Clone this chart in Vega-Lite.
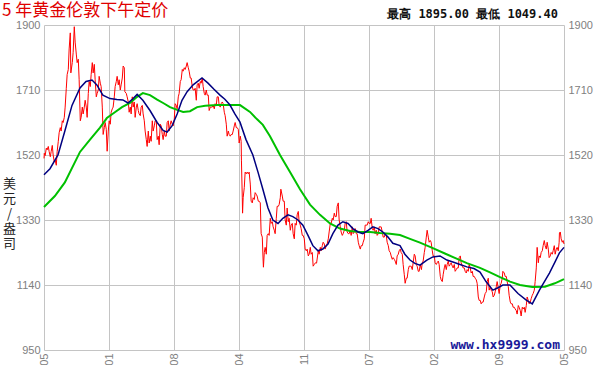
{
"$schema": "https://vega.github.io/schema/vega-lite/v6.json",
"width": 520, "height": 325,
"autosize": {"type": "none"},
"padding": {"left": 44, "top": 25, "right": 36, "bottom": 15},
"background": "white",
"title": {"text": "5 年黄金伦敦下午定价", "anchor": "start", "frame": "group", "color": "#e00000", "font": "Noto Sans CJK SC", "fontSize": 17, "fontWeight": "normal", "dx": -42, "dy": 16, "offset": 4},
"config": {"view": {"stroke": null}},
"datasets": {
"gold": [
{"d":"2011-05-22","p":1510},{"d":"2011-05-23","p":1525},{"d":"2011-05-26","p":1518},{"d":"2011-05-30","p":1540},{"d":"2011-06-02","p":1535},{"d":"2011-06-06","p":1545},{"d":"2011-06-09","p":1530},{"d":"2011-06-13","p":1515},{"d":"2011-06-16","p":1530},{"d":"2011-06-20","p":1548},{"d":"2011-06-23","p":1520},{"d":"2011-06-27","p":1500},{"d":"2011-06-30","p":1505},{"d":"2011-07-04","p":1490},{"d":"2011-07-07","p":1530},{"d":"2011-07-11","p":1560},{"d":"2011-07-14","p":1585},{"d":"2011-07-18","p":1600},{"d":"2011-07-21","p":1590},{"d":"2011-07-25","p":1620},{"d":"2011-07-28","p":1615},{"d":"2011-08-01","p":1630},{"d":"2011-08-04","p":1660},{"d":"2011-08-08","p":1715},{"d":"2011-08-11","p":1755},{"d":"2011-08-15","p":1770},{"d":"2011-08-18","p":1830},{"d":"2011-08-22","p":1877},{"d":"2011-08-24","p":1760},{"d":"2011-08-29","p":1790},{"d":"2011-09-01","p":1820},{"d":"2011-09-05","p":1895},{"d":"2011-09-08","p":1850},{"d":"2011-09-12","p":1815},{"d":"2011-09-15","p":1790},{"d":"2011-09-19","p":1800},{"d":"2011-09-22","p":1740},{"d":"2011-09-26","p":1620},{"d":"2011-09-29","p":1630},{"d":"2011-10-03","p":1660},{"d":"2011-10-06","p":1640},{"d":"2011-10-10","p":1660},{"d":"2011-10-13","p":1680},{"d":"2011-10-17","p":1660},{"d":"2011-10-20","p":1630},{"d":"2011-10-24","p":1700},{"d":"2011-10-27","p":1735},{"d":"2011-10-31","p":1720},{"d":"2011-11-03","p":1755},{"d":"2011-11-07","p":1790},{"d":"2011-11-10","p":1760},{"d":"2011-11-14","p":1785},{"d":"2011-11-17","p":1740},{"d":"2011-11-21","p":1690},{"d":"2011-11-24","p":1700},{"d":"2011-11-28","p":1710},{"d":"2011-12-01","p":1750},{"d":"2011-12-05","p":1730},{"d":"2011-12-08","p":1720},{"d":"2011-12-12","p":1660},{"d":"2011-12-15","p":1580},{"d":"2011-12-19","p":1600},{"d":"2011-12-22","p":1615},{"d":"2011-12-26","p":1595},{"d":"2011-12-29","p":1531},
{"d":"2012-01-02","p":1590},{"d":"2012-01-05","p":1620},{"d":"2012-01-09","p":1610},{"d":"2012-01-12","p":1645},{"d":"2012-01-16","p":1655},{"d":"2012-01-19","p":1660},{"d":"2012-01-23","p":1690},{"d":"2012-01-26","p":1720},{"d":"2012-01-30","p":1735},{"d":"2012-02-02","p":1750},{"d":"2012-02-06","p":1725},{"d":"2012-02-09","p":1740},{"d":"2012-02-13","p":1710},{"d":"2012-02-16","p":1725},{"d":"2012-02-20","p":1745},{"d":"2012-02-23","p":1780},{"d":"2012-02-27","p":1775},{"d":"2012-02-29","p":1705},{"d":"2012-03-05","p":1700},{"d":"2012-03-08","p":1690},{"d":"2012-03-12","p":1675},{"d":"2012-03-15","p":1645},{"d":"2012-03-19","p":1660},{"d":"2012-03-22","p":1640},{"d":"2012-03-26","p":1690},{"d":"2012-03-29","p":1660},{"d":"2012-04-02","p":1675},{"d":"2012-04-05","p":1630},{"d":"2012-04-09","p":1660},{"d":"2012-04-12","p":1670},{"d":"2012-04-16","p":1650},{"d":"2012-04-19","p":1640},{"d":"2012-04-23","p":1635},{"d":"2012-04-26","p":1660},{"d":"2012-04-30","p":1665},{"d":"2012-05-03","p":1640},{"d":"2012-05-07","p":1620},{"d":"2012-05-10","p":1590},{"d":"2012-05-14","p":1565},{"d":"2012-05-17","p":1545},{"d":"2012-05-21","p":1590},{"d":"2012-05-24","p":1555},{"d":"2012-05-28","p":1575},{"d":"2012-05-31","p":1560},{"d":"2012-06-04","p":1620},{"d":"2012-06-07","p":1590},{"d":"2012-06-11","p":1605},{"d":"2012-06-14","p":1620},{"d":"2012-06-18","p":1620},{"d":"2012-06-21","p":1565},{"d":"2012-06-25","p":1575},{"d":"2012-06-28","p":1550},{"d":"2012-07-02","p":1610},{"d":"2012-07-05","p":1605},{"d":"2012-07-09","p":1580},{"d":"2012-07-12","p":1565},{"d":"2012-07-16","p":1590},{"d":"2012-07-19","p":1575},{"d":"2012-07-23","p":1575},{"d":"2012-07-26","p":1615},{"d":"2012-07-30","p":1620},{"d":"2012-08-02","p":1590},{"d":"2012-08-06","p":1610},{"d":"2012-08-09","p":1620},{"d":"2012-08-13","p":1610},{"d":"2012-08-16","p":1605},{"d":"2012-08-20","p":1625},{"d":"2012-08-23","p":1670},{"d":"2012-08-27","p":1665},{"d":"2012-08-30","p":1655},{"d":"2012-09-03","p":1690},{"d":"2012-09-06","p":1700},{"d":"2012-09-10","p":1735},{"d":"2012-09-13","p":1740},{"d":"2012-09-17","p":1770},{"d":"2012-09-20","p":1765},{"d":"2012-09-24","p":1775},{"d":"2012-09-27","p":1770},{"d":"2012-10-01","p":1780},{"d":"2012-10-04","p":1790},{"d":"2012-10-08","p":1775},{"d":"2012-10-11","p":1765},{"d":"2012-10-15","p":1745},{"d":"2012-10-18","p":1745},{"d":"2012-10-22","p":1720},{"d":"2012-10-25","p":1710},{"d":"2012-10-29","p":1710},{"d":"2012-11-01","p":1715},{"d":"2012-11-05","p":1680},{"d":"2012-11-08","p":1725},{"d":"2012-11-12","p":1730},{"d":"2012-11-15","p":1715},{"d":"2012-11-19","p":1735},{"d":"2012-11-22","p":1730},{"d":"2012-11-26","p":1745},{"d":"2012-11-29","p":1720},{"d":"2012-12-03","p":1700},{"d":"2012-12-06","p":1695},{"d":"2012-12-10","p":1710},{"d":"2012-12-13","p":1695},{"d":"2012-12-17","p":1695},{"d":"2012-12-20","p":1650},{"d":"2012-12-24","p":1660},{"d":"2012-12-27","p":1660},{"d":"2012-12-31","p":1660},
{"d":"2013-01-03","p":1665},{"d":"2013-01-07","p":1655},{"d":"2013-01-10","p":1670},{"d":"2013-01-14","p":1665},{"d":"2013-01-17","p":1690},{"d":"2013-01-21","p":1690},{"d":"2013-01-24","p":1665},{"d":"2013-01-28","p":1660},{"d":"2013-01-31","p":1670},{"d":"2013-02-04","p":1675},{"d":"2013-02-07","p":1670},{"d":"2013-02-11","p":1645},{"d":"2013-02-14","p":1635},{"d":"2013-02-18","p":1610},{"d":"2013-02-21","p":1575},{"d":"2013-02-25","p":1590},{"d":"2013-02-28","p":1580},{"d":"2013-03-04","p":1575},{"d":"2013-03-07","p":1580},{"d":"2013-03-11","p":1580},{"d":"2013-03-14","p":1590},{"d":"2013-03-18","p":1605},{"d":"2013-03-21","p":1615},{"d":"2013-03-25","p":1600},{"d":"2013-03-28","p":1600},{"d":"2013-04-01","p":1595},{"d":"2013-04-04","p":1555},{"d":"2013-04-08","p":1575},{"d":"2013-04-11","p":1560},{"d":"2013-04-12","p":1505},{"d":"2013-04-15","p":1395},{"d":"2013-04-16","p":1350},{"d":"2013-04-18","p":1395},{"d":"2013-04-22","p":1425},{"d":"2013-04-25","p":1470},{"d":"2013-04-29","p":1465},{"d":"2013-05-02","p":1470},{"d":"2013-05-06","p":1465},{"d":"2013-05-09","p":1470},{"d":"2013-05-13","p":1435},{"d":"2013-05-16","p":1385},{"d":"2013-05-20","p":1380},{"d":"2013-05-23","p":1395},{"d":"2013-05-27","p":1390},{"d":"2013-05-30","p":1410},{"d":"2013-06-03","p":1405},{"d":"2013-06-06","p":1400},{"d":"2013-06-10","p":1385},{"d":"2013-06-13","p":1385},{"d":"2013-06-17","p":1380},{"d":"2013-06-20","p":1290},{"d":"2013-06-24","p":1280},{"d":"2013-06-27","p":1210},{"d":"2013-06-28","p":1192},{"d":"2013-07-01","p":1235},{"d":"2013-07-04","p":1250},{"d":"2013-07-08","p":1230},{"d":"2013-07-11","p":1285},{"d":"2013-07-15","p":1290},{"d":"2013-07-18","p":1285},{"d":"2013-07-22","p":1335},{"d":"2013-07-25","p":1320},{"d":"2013-07-29","p":1325},{"d":"2013-08-01","p":1310},{"d":"2013-08-05","p":1300},{"d":"2013-08-08","p":1290},{"d":"2013-08-12","p":1335},{"d":"2013-08-15","p":1370},{"d":"2013-08-19","p":1370},{"d":"2013-08-22","p":1375},{"d":"2013-08-26","p":1395},{"d":"2013-08-28","p":1420},{"d":"2013-09-02","p":1400},{"d":"2013-09-05","p":1385},{"d":"2013-09-09","p":1385},{"d":"2013-09-12","p":1330},{"d":"2013-09-16","p":1315},{"d":"2013-09-19","p":1365},{"d":"2013-09-23","p":1325},{"d":"2013-09-26","p":1335},{"d":"2013-09-30","p":1300},{"d":"2013-10-03","p":1315},{"d":"2013-10-07","p":1320},{"d":"2013-10-10","p":1290},{"d":"2013-10-14","p":1275},{"d":"2013-10-17","p":1320},{"d":"2013-10-21","p":1315},{"d":"2013-10-24","p":1345},{"d":"2013-10-28","p":1355},{"d":"2013-10-31","p":1325},{"d":"2013-11-04","p":1315},{"d":"2013-11-07","p":1305},{"d":"2013-11-11","p":1285},{"d":"2013-11-14","p":1285},{"d":"2013-11-18","p":1275},{"d":"2013-11-21","p":1245},{"d":"2013-11-25","p":1240},{"d":"2013-11-28","p":1245},{"d":"2013-12-02","p":1225},{"d":"2013-12-05","p":1230},{"d":"2013-12-09","p":1250},{"d":"2013-12-12","p":1230},{"d":"2013-12-16","p":1235},{"d":"2013-12-19","p":1195},{"d":"2013-12-23","p":1200},{"d":"2013-12-27","p":1205},{"d":"2013-12-31","p":1204},
{"d":"2014-01-06","p":1240},{"d":"2014-01-09","p":1230},{"d":"2014-01-13","p":1250},{"d":"2014-01-16","p":1240},{"d":"2014-01-20","p":1255},{"d":"2014-01-23","p":1265},{"d":"2014-01-27","p":1260},{"d":"2014-01-30","p":1245},{"d":"2014-02-03","p":1255},{"d":"2014-02-06","p":1260},{"d":"2014-02-10","p":1275},{"d":"2014-02-13","p":1295},{"d":"2014-02-17","p":1320},{"d":"2014-02-20","p":1320},{"d":"2014-02-24","p":1335},{"d":"2014-02-27","p":1330},{"d":"2014-03-03","p":1350},{"d":"2014-03-06","p":1340},{"d":"2014-03-10","p":1340},{"d":"2014-03-13","p":1370},{"d":"2014-03-17","p":1380},{"d":"2014-03-20","p":1330},{"d":"2014-03-24","p":1310},{"d":"2014-03-27","p":1295},{"d":"2014-03-31","p":1285},{"d":"2014-04-03","p":1290},{"d":"2014-04-07","p":1300},{"d":"2014-04-10","p":1320},{"d":"2014-04-14","p":1325},{"d":"2014-04-17","p":1295},{"d":"2014-04-21","p":1290},{"d":"2014-04-24","p":1290},{"d":"2014-04-28","p":1300},{"d":"2014-05-01","p":1285},{"d":"2014-05-05","p":1310},{"d":"2014-05-08","p":1290},{"d":"2014-05-12","p":1295},{"d":"2014-05-15","p":1305},{"d":"2014-05-19","p":1290},{"d":"2014-05-22","p":1290},{"d":"2014-05-26","p":1265},{"d":"2014-05-29","p":1255},{"d":"2014-06-02","p":1245},{"d":"2014-06-05","p":1255},{"d":"2014-06-09","p":1255},{"d":"2014-06-12","p":1265},{"d":"2014-06-16","p":1275},{"d":"2014-06-19","p":1315},{"d":"2014-06-23","p":1315},{"d":"2014-06-26","p":1315},{"d":"2014-06-30","p":1325},{"d":"2014-07-03","p":1320},{"d":"2014-07-07","p":1320},{"d":"2014-07-10","p":1335},{"d":"2014-07-14","p":1305},{"d":"2014-07-17","p":1300},{"d":"2014-07-21","p":1310},{"d":"2014-07-24","p":1290},{"d":"2014-07-28","p":1300},{"d":"2014-07-31","p":1285},{"d":"2014-08-04","p":1290},{"d":"2014-08-07","p":1310},{"d":"2014-08-11","p":1310},{"d":"2014-08-14","p":1310},{"d":"2014-08-18","p":1295},{"d":"2014-08-21","p":1280},{"d":"2014-08-25","p":1280},{"d":"2014-08-28","p":1290},{"d":"2014-09-01","p":1285},{"d":"2014-09-04","p":1265},{"d":"2014-09-08","p":1255},{"d":"2014-09-11","p":1240},{"d":"2014-09-15","p":1235},{"d":"2014-09-18","p":1225},{"d":"2014-09-22","p":1215},{"d":"2014-09-25","p":1220},{"d":"2014-09-29","p":1215},{"d":"2014-10-02","p":1210},{"d":"2014-10-06","p":1200},{"d":"2014-10-09","p":1225},{"d":"2014-10-13","p":1230},{"d":"2014-10-16","p":1240},{"d":"2014-10-20","p":1245},{"d":"2014-10-23","p":1235},{"d":"2014-10-27","p":1230},{"d":"2014-10-30","p":1200},{"d":"2014-11-03","p":1170},{"d":"2014-11-06","p":1145},{"d":"2014-11-10","p":1160},{"d":"2014-11-13","p":1160},{"d":"2014-11-17","p":1185},{"d":"2014-11-20","p":1195},{"d":"2014-11-24","p":1195},{"d":"2014-11-27","p":1195},{"d":"2014-12-01","p":1185},{"d":"2014-12-04","p":1205},{"d":"2014-12-08","p":1230},{"d":"2014-12-11","p":1225},{"d":"2014-12-15","p":1200},{"d":"2014-12-18","p":1195},{"d":"2014-12-22","p":1180},{"d":"2014-12-25","p":1180},{"d":"2014-12-29","p":1200},
{"d":"2015-01-02","p":1185},{"d":"2015-01-05","p":1205},{"d":"2015-01-08","p":1210},{"d":"2015-01-12","p":1235},{"d":"2015-01-15","p":1250},{"d":"2015-01-19","p":1280},{"d":"2015-01-22","p":1300},{"d":"2015-01-26","p":1280},{"d":"2015-01-29","p":1265},{"d":"2015-02-02","p":1270},{"d":"2015-02-05","p":1265},{"d":"2015-02-09","p":1240},{"d":"2015-02-12","p":1225},{"d":"2015-02-16","p":1225},{"d":"2015-02-19","p":1205},{"d":"2015-02-23","p":1200},{"d":"2015-02-26","p":1205},{"d":"2015-03-02","p":1210},{"d":"2015-03-05","p":1200},{"d":"2015-03-09","p":1165},{"d":"2015-03-12","p":1155},{"d":"2015-03-16","p":1150},{"d":"2015-03-19","p":1170},{"d":"2015-03-23","p":1190},{"d":"2015-03-26","p":1200},{"d":"2015-03-30","p":1185},{"d":"2015-04-02","p":1200},{"d":"2015-04-06","p":1210},{"d":"2015-04-09","p":1195},{"d":"2015-04-13","p":1200},{"d":"2015-04-16","p":1205},{"d":"2015-04-20","p":1195},{"d":"2015-04-23","p":1190},{"d":"2015-04-27","p":1200},{"d":"2015-04-30","p":1180},{"d":"2015-05-04","p":1185},{"d":"2015-05-07","p":1190},{"d":"2015-05-11","p":1190},{"d":"2015-05-14","p":1220},{"d":"2015-05-18","p":1225},{"d":"2015-05-21","p":1205},{"d":"2015-05-25","p":1195},{"d":"2015-05-28","p":1190},{"d":"2015-06-01","p":1190},{"d":"2015-06-04","p":1180},{"d":"2015-06-08","p":1175},{"d":"2015-06-11","p":1185},{"d":"2015-06-15","p":1180},{"d":"2015-06-18","p":1200},{"d":"2015-06-22","p":1190},{"d":"2015-06-25","p":1175},{"d":"2015-06-29","p":1180},{"d":"2015-07-02","p":1165},{"d":"2015-07-06","p":1165},{"d":"2015-07-09","p":1160},{"d":"2015-07-13","p":1155},{"d":"2015-07-16","p":1145},{"d":"2015-07-20","p":1105},{"d":"2015-07-23","p":1095},{"d":"2015-07-27","p":1095},{"d":"2015-07-30","p":1085},{"d":"2015-08-03","p":1090},{"d":"2015-08-06","p":1090},{"d":"2015-08-10","p":1105},{"d":"2015-08-13","p":1115},{"d":"2015-08-17","p":1120},{"d":"2015-08-20","p":1150},{"d":"2015-08-24","p":1160},{"d":"2015-08-27","p":1125},{"d":"2015-08-31","p":1135},{"d":"2015-09-03","p":1125},{"d":"2015-09-07","p":1120},{"d":"2015-09-10","p":1105},{"d":"2015-09-14","p":1110},{"d":"2015-09-17","p":1120},{"d":"2015-09-21","p":1135},{"d":"2015-09-24","p":1150},{"d":"2015-09-28","p":1130},{"d":"2015-10-01","p":1115},{"d":"2015-10-05","p":1140},{"d":"2015-10-08","p":1145},{"d":"2015-10-12","p":1160},{"d":"2015-10-14","p":1180},{"d":"2015-10-19","p":1175},{"d":"2015-10-22","p":1165},{"d":"2015-10-26","p":1165},{"d":"2015-10-29","p":1150},{"d":"2015-11-02","p":1135},{"d":"2015-11-05","p":1110},{"d":"2015-11-09","p":1090},{"d":"2015-11-12","p":1085},{"d":"2015-11-16","p":1085},{"d":"2015-11-19","p":1075},{"d":"2015-11-23","p":1075},{"d":"2015-11-26","p":1070},{"d":"2015-11-30","p":1065},{"d":"2015-12-03","p":1055},{"d":"2015-12-07","p":1080},{"d":"2015-12-10","p":1075},{"d":"2015-12-14","p":1065},{"d":"2015-12-17","p":1049.4},{"d":"2015-12-21","p":1075},{"d":"2015-12-24","p":1070},{"d":"2015-12-28","p":1075},{"d":"2015-12-31","p":1060},
{"d":"2016-01-04","p":1080},{"d":"2016-01-07","p":1105},{"d":"2016-01-11","p":1095},{"d":"2016-01-14","p":1085},{"d":"2016-01-18","p":1090},{"d":"2016-01-21","p":1100},{"d":"2016-01-25","p":1110},{"d":"2016-01-28","p":1115},{"d":"2016-02-01","p":1125},{"d":"2016-02-04","p":1150},{"d":"2016-02-08","p":1190},{"d":"2016-02-11","p":1250},{"d":"2016-02-15","p":1205},{"d":"2016-02-18","p":1225},{"d":"2016-02-22","p":1220},{"d":"2016-02-25","p":1235},{"d":"2016-02-29","p":1240},{"d":"2016-03-03","p":1255},{"d":"2016-03-07","p":1270},{"d":"2016-03-10","p":1255},{"d":"2016-03-14","p":1245},{"d":"2016-03-17","p":1265},{"d":"2016-03-21","p":1245},{"d":"2016-03-24","p":1220},{"d":"2016-03-28","p":1225},{"d":"2016-03-31","p":1235},{"d":"2016-04-04","p":1230},{"d":"2016-04-07","p":1240},{"d":"2016-04-11","p":1255},{"d":"2016-04-14","p":1230},{"d":"2016-04-18","p":1245},{"d":"2016-04-21","p":1250},{"d":"2016-04-25","p":1240},{"d":"2016-04-28","p":1265},{"d":"2016-04-29","p":1292},{"d":"2016-05-02","p":1295},{"d":"2016-05-05","p":1275},{"d":"2016-05-09","p":1265},{"d":"2016-05-12","p":1270},{"d":"2016-05-15","p":1260}
],
"maShort": [
{"d":"2011-05-22","p":1462},{"d":"2011-06-12","p":1480},{"d":"2011-07-10","p":1520},{"d":"2011-08-03","p":1590},{"d":"2011-08-28","p":1665},{"d":"2011-09-25","p":1716},{"d":"2011-10-16","p":1735},{"d":"2011-11-06","p":1739},{"d":"2011-11-23","p":1725},{"d":"2011-12-14","p":1695},{"d":"2012-01-08","p":1685},{"d":"2012-02-01","p":1682},{"d":"2012-02-22","p":1681},{"d":"2012-03-11","p":1672},{"d":"2012-03-29","p":1685},{"d":"2012-04-12","p":1697},{"d":"2012-05-02","p":1680},{"d":"2012-05-27","p":1650},{"d":"2012-06-21","p":1615},{"d":"2012-07-12","p":1592},{"d":"2012-07-26","p":1587},{"d":"2012-08-12","p":1605},{"d":"2012-08-30","p":1640},{"d":"2012-09-16","p":1680},{"d":"2012-10-04","p":1705},{"d":"2012-10-25","p":1725},{"d":"2012-11-25","p":1745},{"d":"2012-12-16","p":1730},{"d":"2013-01-06","p":1712},{"d":"2013-01-27","p":1695},{"d":"2013-02-13","p":1683},{"d":"2013-03-03","p":1666},{"d":"2013-03-20","p":1640},{"d":"2013-04-07","p":1616},{"d":"2013-04-28","p":1565},{"d":"2013-05-22","p":1520},{"d":"2013-06-09","p":1470},{"d":"2013-06-26","p":1420},{"d":"2013-07-14","p":1365},{"d":"2013-07-31","p":1330},{"d":"2013-08-18","p":1320},{"d":"2013-09-04","p":1335},{"d":"2013-09-22","p":1345},{"d":"2013-10-09","p":1340},{"d":"2013-10-27","p":1330},{"d":"2013-11-13","p":1315},{"d":"2013-12-01","p":1285},{"d":"2013-12-18","p":1255},{"d":"2014-01-05","p":1240},{"d":"2014-01-22","p":1245},{"d":"2014-02-09","p":1260},{"d":"2014-02-26","p":1290},{"d":"2014-03-16","p":1315},{"d":"2014-04-02","p":1325},{"d":"2014-04-20","p":1320},{"d":"2014-05-07","p":1305},{"d":"2014-05-25","p":1295},{"d":"2014-06-11","p":1290},{"d":"2014-06-29","p":1300},{"d":"2014-07-16","p":1310},{"d":"2014-08-03","p":1305},{"d":"2014-08-20","p":1295},{"d":"2014-09-07","p":1280},{"d":"2014-09-24","p":1262},{"d":"2014-10-19","p":1255},{"d":"2014-11-05","p":1230},{"d":"2014-11-23","p":1213},{"d":"2014-12-10","p":1203},{"d":"2014-12-28","p":1198},{"d":"2015-01-21","p":1213},{"d":"2015-02-11","p":1222},{"d":"2015-03-08","p":1225},{"d":"2015-04-01","p":1213},{"d":"2015-04-22","p":1207},{"d":"2015-05-17","p":1200},{"d":"2015-06-10","p":1193},{"d":"2015-07-05","p":1188},{"d":"2015-07-26","p":1178},{"d":"2015-08-16","p":1150},{"d":"2015-09-09","p":1125},{"d":"2015-09-27","p":1132},{"d":"2015-10-14","p":1140},{"d":"2015-11-08","p":1140},{"d":"2015-12-06","p":1115},{"d":"2016-01-04","p":1096},{"d":"2016-01-25","p":1085},{"d":"2016-02-19","p":1125},{"d":"2016-03-25","p":1175},{"d":"2016-04-15","p":1210},{"d":"2016-04-29","p":1234},{"d":"2016-05-15","p":1250}
],
"maLong": [
{"d":"2011-05-22","p":1368},{"d":"2011-06-29","p":1400},{"d":"2011-08-03","p":1440},{"d":"2011-09-25","p":1529},{"d":"2011-10-30","p":1565},{"d":"2011-12-04","p":1600},{"d":"2011-12-28","p":1628},{"d":"2012-01-25","p":1645},{"d":"2012-02-19","p":1660},{"d":"2012-03-18","p":1672},{"d":"2012-04-12","p":1690},{"d":"2012-05-02","p":1701},{"d":"2012-05-27","p":1695},{"d":"2012-06-21","p":1682},{"d":"2012-07-12","p":1672},{"d":"2012-08-05","p":1660},{"d":"2012-08-30","p":1652},{"d":"2012-09-20","p":1646},{"d":"2012-10-14","p":1648},{"d":"2012-11-08","p":1660},{"d":"2012-12-06","p":1664},{"d":"2013-01-17","p":1666},{"d":"2013-03-03","p":1666},{"d":"2013-04-07","p":1666},{"d":"2013-05-12","p":1646},{"d":"2013-06-05","p":1625},{"d":"2013-06-26","p":1608},{"d":"2013-07-21","p":1575},{"d":"2013-08-25","p":1520},{"d":"2013-09-29","p":1470},{"d":"2013-11-03","p":1420},{"d":"2013-12-08","p":1375},{"d":"2014-01-12","p":1345},{"d":"2014-02-16","p":1320},{"d":"2014-03-23","p":1305},{"d":"2014-04-27","p":1298},{"d":"2014-06-01","p":1295},{"d":"2014-07-06","p":1295},{"d":"2014-08-10","p":1292},{"d":"2014-09-14","p":1290},{"d":"2014-10-19","p":1286},{"d":"2014-11-23","p":1275},{"d":"2014-12-28","p":1264},{"d":"2015-02-11","p":1248},{"d":"2015-03-25","p":1232},{"d":"2015-05-03","p":1218},{"d":"2015-06-10","p":1204},{"d":"2015-07-26","p":1190},{"d":"2015-08-30","p":1177},{"d":"2015-10-04","p":1163},{"d":"2015-11-08","p":1150},{"d":"2015-12-13","p":1140},{"d":"2016-01-25","p":1134},{"d":"2016-03-09","p":1135},{"d":"2016-04-13","p":1145},{"d":"2016-05-15","p":1157}
]
},
"layer": [
{
"data": {"name": "gold"},
"mark": {"type": "line", "color": "#ff0000", "strokeWidth": 1, "interpolate": "linear"},
"encoding": {
"x": {"field": "d", "type": "temporal",
 "scale": {"type": "utc", "domain": [1306022400000, 1463270400000]},
 "axis": {"orient": "bottom", "title": null, "values": [1306022400000,1325678400000,1345334400000,1364990400000,1384646400000,1404302400000,1423958400000,1443614400000,1463270400000],
  "labelExpr": "['2011-05','2012-01','2012-08','2013-04','2013-11','2014-07','2015-02','2015-09','2016-05'][round((+datum.value - 1306022400000) / 19656000000)]",
  "grid": true, "gridColor": "#c4c4c4", "gridWidth": 1, "domain": false, "ticks": false,
  "labelAngle": -90, "labelAlign": "right", "labelBaseline": "middle", "labelPadding": 3,
  "labelFont": "Liberation Sans", "labelFontSize": 11, "labelColor": "#808080", "labelOverlap": false, "labelBound": false, "labelFlush": false}},
"y": {"field": "p", "type": "quantitative",
 "scale": {"domain": [950, 1900], "nice": false, "zero": false},
 "axis": {"orient": "left", "values": [950,1140,1330,1520,1710,1900], "format": "d", "grid": true, "gridColor": "#c4c4c4", "domain": false, "ticks": false,
  "labelPadding": 4, "labelFont": "Liberation Sans", "labelFontSize": 11, "labelColor": "#808080",
  "title": ["美","元","/","盎","司"], "titleAngle": 0, "titleAlign": "center", "titleBaseline": "top", "titleX": -35, "titleY": 152,
  "titleFont": "Noto Sans CJK SC", "titleFontSize": 13, "titleFontWeight": "normal", "titleColor": "#222222", "titleLineHeight": 15}}
}
},
{
"data": {"name": "maLong"},
"mark": {"type": "line", "color": "#00c000", "strokeWidth": 2},
"encoding": {
"x": {"field": "d", "type": "temporal"},
"y": {"field": "p", "type": "quantitative", "axis": null}
}
},
{
"data": {"name": "maShort"},
"mark": {"type": "line", "color": "#000080", "strokeWidth": 1.5},
"encoding": {
"x": {"field": "d", "type": "temporal"},
"y": {"field": "p", "type": "quantitative",
 "axis": {"orient": "right", "values": [950,1140,1330,1520,1710,1900], "format": "d", "grid": false, "domain": false, "ticks": false,
  "labelPadding": 4, "labelFont": "Liberation Sans", "labelFontSize": 11, "labelColor": "#808080", "title": null}}
}
},
{
"data": {"values": [{"label": "最高 1895.00  最低 1049.40"}]},
"mark": {"type": "text", "align": "right", "baseline": "alphabetic", "dx": -6, "dy": -7, "font": "DejaVu Sans Mono", "fontWeight": "bold", "fontSize": 12, "color": "#111111"},
"encoding": {
"x": {"datum": 1463270400000, "type": "temporal"},
"y": {"datum": 1900, "type": "quantitative", "axis": null},
"text": {"field": "label"}
}
},
{
"data": {"values": [{"label": "www.hx9999.com"}]},
"mark": {"type": "text", "align": "right", "baseline": "alphabetic", "dx": -4, "dy": -1, "font": "DejaVu Sans Mono", "fontWeight": "bold", "fontSize": 13, "color": "#1a1a99"},
"encoding": {
"x": {"datum": 1463270400000, "type": "temporal"},
"y": {"datum": 950, "type": "quantitative", "axis": null},
"text": {"field": "label"}
}
}
],
"resolve": {"axis": {"y": "independent"}}
}
